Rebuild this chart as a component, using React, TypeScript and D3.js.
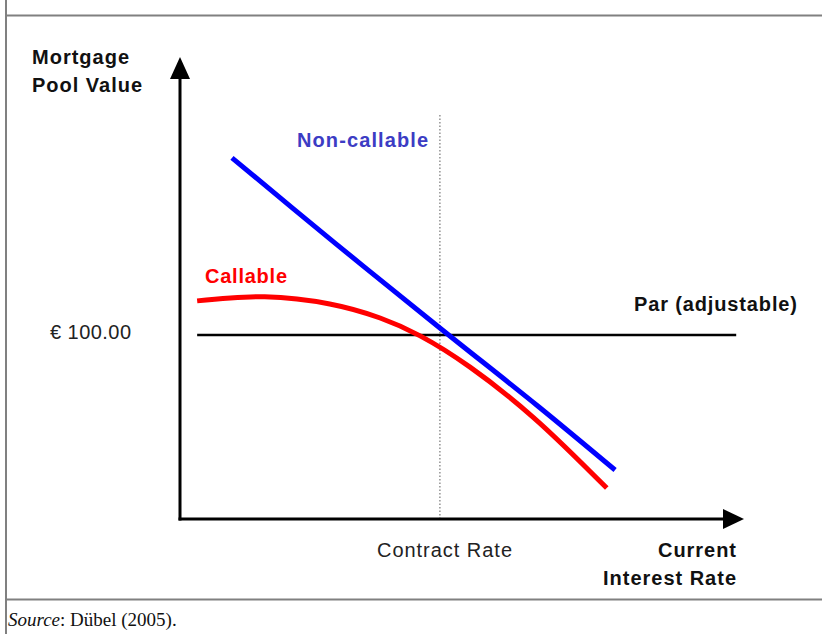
import React from "react";
import * as d3 from "d3";

// Interest rate (x) and pool value (y) readings
const nonCallableRate = [1.0, 3.0, 5.0, 6.9, 8.37];
const nonCallableValue = [196.2, 149.5, 103.8, 61.0, 26.6];

const callableRate = [0.33, 1.63, 2.88, 3.85, 4.62, 5.58, 6.79, 8.21];
const callableValue = [118.5, 120.7, 116.8, 109.2, 99.5, 82.5, 55.4, 16.8];

const parValue = 100;
const parRange = [0.33, 10.7];
const contractRate = 5;
const xDomain = [0, 10.85];
const yDomain = [0, 251];

const W = 822;
const H = 634;

export default function App() {
  const x = d3.scaleLinear().domain(xDomain).range([180, 744]);
  const y = d3.scaleLinear().domain(yDomain).range([519, 57]);

  const line = d3
    .line<[number, number]>()
    .x((d) => x(d[0]))
    .y((d) => y(d[1]))
    .curve(d3.curveCatmullRom.alpha(0.5));

  const blue = nonCallableRate.map((r, i) => [r, nonCallableValue[i]] as [number, number]);
  const red = callableRate.map((r, i) => [r, callableValue[i]] as [number, number]);

  const x0 = x(0);
  const y0 = y(0);
  const xEnd = x(xDomain[1]);
  const yTop = y(yDomain[1]);
  const sans = "'Liberation Sans', Arial, sans-serif";

  return (
    <svg
      width={W}
      height={H}
      style={{ position: "absolute", left: 0, top: 0, background: "#fff" }}
    >
      <rect x={0} y={0} width={W} height={H} fill="#fff" />
      {/* frame */}
      <line x1={6} y1={0} x2={6} y2={H} stroke="#808080" strokeWidth={2} />
      <line x1={6} y1={15.5} x2={W} y2={15.5} stroke="#808080" strokeWidth={2} />
      <line x1={6} y1={599.5} x2={W} y2={599.5} stroke="#808080" strokeWidth={2} />

      {/* contract rate dotted line */}
      <line
        x1={x(contractRate)}
        x2={x(contractRate)}
        y1={115}
        y2={y0}
        stroke="#777"
        strokeWidth={1.2}
        strokeDasharray="1.5,2"
      />

      {/* axes */}
      <line x1={x0} y1={y0 + 1.5} x2={x0} y2={yTop + 18} stroke="#000" strokeWidth={3} />
      <path
        d={`M${x0},${yTop} L${x0 - 10},${yTop + 22} L${x0 + 10},${yTop + 22} Z`}
        fill="#000"
      />
      <line x1={x0 - 1.5} y1={y0} x2={xEnd - 18} y2={y0} stroke="#000" strokeWidth={3} />
      <path
        d={`M${xEnd},${y0} L${xEnd - 21},${y0 - 10} L${xEnd - 21},${y0 + 10} Z`}
        fill="#000"
      />

      {/* par line */}
      <line
        x1={x(parRange[0])}
        x2={x(parRange[1])}
        y1={y(parValue)}
        y2={y(parValue)}
        stroke="#000"
        strokeWidth={2.5}
      />

      {/* curves */}
      <path d={line(red) || ""} fill="none" stroke="#ff0000" strokeWidth={5} />
      <path d={line(blue) || ""} fill="none" stroke="#0000ff" strokeWidth={5} />

      {/* labels */}
      <g fontFamily={sans} fontWeight="bold" fontSize={20} fill="#111">
        <text x={32} y={64} textLength={97} lengthAdjust="spacing">Mortgage</text>
        <text x={32} y={92} textLength={110} lengthAdjust="spacing">Pool Value</text>
        <text x={297} y={147} fill="#3c3cc4" textLength={131} lengthAdjust="spacing">Non-callable</text>
        <text x={205} y={283} fill="#ff0000" textLength={82} lengthAdjust="spacing">Callable</text>
        <text x={634} y={311} textLength={163} lengthAdjust="spacing">Par (adjustable)</text>
        <text x={658} y={557} textLength={78} lengthAdjust="spacing">Current</text>
        <text x={603} y={585} textLength={133} lengthAdjust="spacing">Interest Rate</text>
      </g>
      <g fontFamily={sans} fontSize={20} fill="#222">
        <text x={50} y={339} textLength={81} lengthAdjust="spacing">€ 100.00</text>
        <text x={377} y={557} textLength={135} lengthAdjust="spacing">Contract Rate</text>
      </g>
      <text x={8} y={626} fontFamily="'Liberation Serif', 'DejaVu Serif', serif" fontSize={19} fill="#111">
        <tspan fontStyle="italic">Source</tspan>: Dübel (2005).
      </text>
    </svg>
  );
}
